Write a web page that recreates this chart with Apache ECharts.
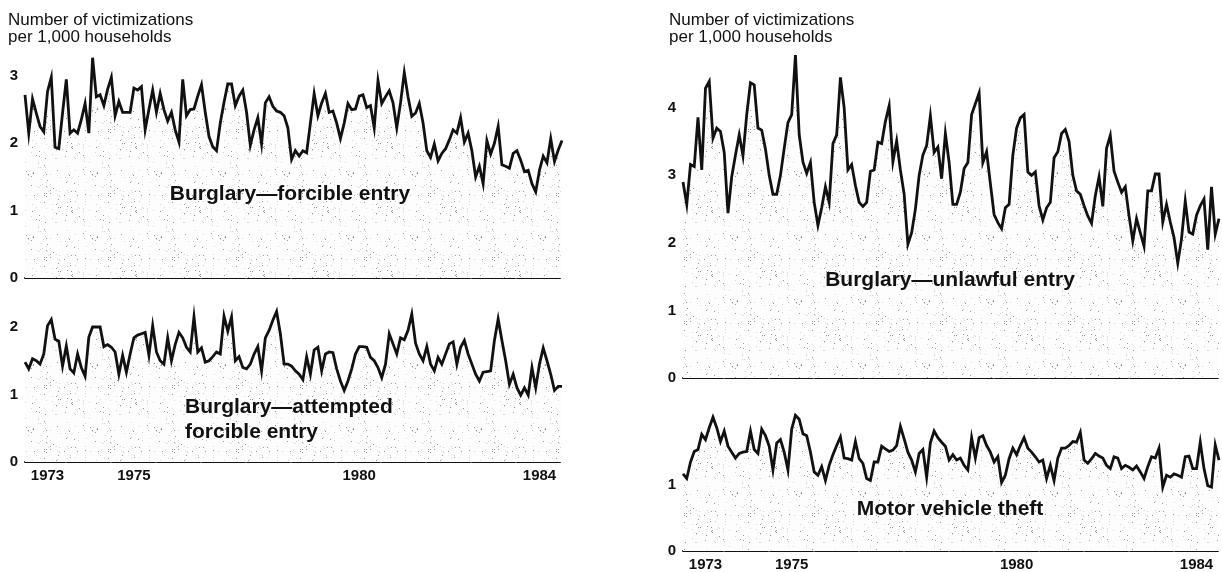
<!DOCTYPE html>
<html>
<head>
<meta charset="utf-8">
<script src="https://cdn.jsdelivr.net/npm/echarts@6/dist/echarts.min.js"></script>
<style>
  html, body { margin: 0; background: #fff; }
  #chart { width: 1222px; height: 572px; }
</style>
</head>
<body>
<div id="chart"></div>
<script>
// monthly categories, Jan 1973 .. Dec 1984
const months = []
for (let y = 1973; y <= 1984; y++) for (let m = 1; m <= 12; m++) months.push(y + '-' + m)

// year tick labels and the month they sit under
const yearTicks = ['1973', '1975', '1980', '1984']
const yearTickIdx = [6, 29, 89, 137]

const forcible = [
  2.72,2.15,2.66,2.45,2.25,2.17,2.77,2.98,1.94,1.92,2.45,2.95,
  2.15,2.2,2.15,2.35,2.59,2.15,3.27,2.69,2.72,2.56,2.8,2.98,
  2.41,2.62,2.46,2.46,2.46,2.82,2.79,2.84,2.2,2.5,2.79,2.46,
  2.74,2.5,2.33,2.46,2.2,2.02,2.95,2.41,2.5,2.51,2.7,2.87,
  2.46,2.1,1.95,1.89,2.3,2.61,2.88,2.88,2.56,2.7,2.79,2.46,
  1.97,2.2,2.38,1.99,2.6,2.69,2.55,2.48,2.46,2.41,2.23,1.76,
  1.89,1.81,1.89,1.86,2.3,2.74,2.41,2.6,2.74,2.46,2.48,2.3,
  2.07,2.3,2.59,2.5,2.51,2.7,2.72,2.53,2.56,2.23,2.93,2.59,
  2.69,2.78,2.6,2.23,2.6,3.05,2.69,2.4,2.45,2.59,2.3,1.89,
  1.79,1.99,1.74,1.85,1.92,2.05,2.2,2.15,2.38,2.02,2.15,1.89,
  1.5,1.66,1.4,2.04,1.84,2.0,2.25,1.68,1.66,1.63,1.85,1.89,
  1.75,1.58,1.6,1.4,1.28,1.6,1.81,1.71,2.07,1.73,1.9,2.04
]

const attempted = [
  1.48,1.38,1.53,1.5,1.45,1.6,2.02,2.11,1.82,1.79,1.42,1.72,
  1.38,1.32,1.6,1.4,1.27,1.85,2.0,2.0,2.0,1.71,1.74,1.7,
  1.63,1.3,1.58,1.33,1.6,1.84,1.88,1.9,1.92,1.58,2.02,1.63,
  1.5,1.45,1.84,1.5,1.74,1.92,1.84,1.7,1.63,2.15,1.63,1.69,
  1.48,1.5,1.56,1.63,1.6,2.16,1.94,2.15,1.5,1.56,1.4,1.38,
  1.45,1.6,1.71,1.35,1.84,1.95,2.1,2.23,1.9,1.45,1.45,1.42,
  1.35,1.3,1.22,1.56,1.3,1.66,1.7,1.35,1.6,1.63,1.62,1.38,
  1.2,1.06,1.2,1.38,1.6,1.71,1.71,1.7,1.55,1.5,1.4,1.25,
  1.45,1.9,1.75,1.6,1.84,1.81,1.95,2.19,1.76,1.6,1.5,1.71,
  1.45,1.35,1.55,1.45,1.6,1.75,1.78,1.45,1.7,1.8,1.6,1.45,
  1.3,1.2,1.33,1.34,1.35,1.8,2.12,1.8,1.5,1.15,1.3,1.1,
  0.99,1.1,0.99,1.4,1.1,1.45,1.69,1.5,1.3,1.06,1.12,1.12
]

const unlawful = [
  2.9,2.57,3.16,3.13,3.86,3.08,4.29,4.39,3.55,3.7,3.65,3.34,
  2.44,2.98,3.3,3.6,3.29,3.9,4.37,4.34,3.7,3.67,3.39,3.0,
  2.72,2.72,3.0,3.4,3.78,3.9,4.78,3.6,3.2,3.03,3.19,2.6,
  2.26,2.52,2.83,2.6,3.47,3.6,4.45,4.0,3.08,3.16,2.85,2.6,
  2.54,2.6,3.06,3.08,3.49,3.47,3.8,4.03,3.2,3.51,3.08,2.72,
  1.98,2.15,2.5,3.0,3.3,3.44,3.88,3.34,3.42,2.95,3.62,3.19,
  2.57,2.57,2.75,3.1,3.19,3.9,4.06,4.22,3.19,3.35,2.88,2.42,
  2.3,2.21,2.52,2.57,3.3,3.7,3.85,3.9,3.05,3.0,3.05,2.55,
  2.34,2.52,2.6,3.26,3.35,3.62,3.68,3.5,3.0,2.77,2.72,2.55,
  2.4,2.29,2.7,2.98,2.54,3.4,3.59,3.06,2.9,2.75,2.83,2.4,
  2.03,2.36,2.15,1.95,2.77,2.77,3.02,3.02,2.31,2.57,2.31,2.08,
  1.7,2.06,2.62,2.16,2.13,2.41,2.55,2.65,1.9,2.83,2.13,2.36
]

const motorVehicle = [
  1.17,1.1,1.35,1.51,1.54,1.77,1.69,1.87,2.03,1.87,1.66,1.82,
  1.59,1.5,1.41,1.48,1.5,1.51,1.82,1.54,1.48,1.85,1.75,1.59,
  1.23,1.64,1.69,1.5,1.23,1.85,2.06,2.0,1.78,1.75,1.5,1.2,
  1.15,1.28,1.07,1.3,1.46,1.6,1.73,1.41,1.4,1.38,1.66,1.4,
  1.33,1.1,1.07,1.35,1.35,1.59,1.55,1.51,1.53,1.6,1.89,1.7,
  1.5,1.38,1.2,1.48,1.54,1.12,1.64,1.82,1.72,1.65,1.59,1.38,
  1.46,1.38,1.41,1.3,1.23,1.72,1.41,1.72,1.75,1.6,1.5,1.35,
  1.43,1.04,1.15,1.4,1.56,1.46,1.6,1.72,1.56,1.5,1.43,1.35,
  1.38,1.1,1.3,1.07,1.41,1.56,1.56,1.6,1.66,1.65,1.8,1.38,
  1.33,1.4,1.48,1.44,1.41,1.3,1.25,1.43,1.41,1.25,1.3,1.27,
  1.23,1.29,1.2,1.1,1.28,1.43,1.41,1.56,0.97,1.15,1.12,1.17,
  1.15,1.12,1.43,1.44,1.25,1.25,1.65,1.25,0.99,0.97,1.61,1.38
]

// value-axis labels shown in each panel
const yLabelsForcible = [0, 1, 2, 3]
const yLabelsAttempted = [0, 1, 2]
const yLabelsUnlawful = [0, 1, 2, 3, 4]
const yLabelsMotor = [0, 1]

// print-style stipple under the lines (fixed seed, purely a texture)
function stipple() {
  const c = document.createElement('canvas')
  c.width = c.height = 64
  const g = c.getContext('2d')
  g.fillStyle = '#fdfdfd'
  g.fillRect(0, 0, 64, 64)
  let s = 12345
  const next = () => (s = (s * 16807) % 2147483647) / 2147483647
  for (let k = 0; k < 130; k++) {
    g.fillStyle = next() < 0.4 ? 'rgba(0,0,0,0.4)' : 'rgba(0,0,0,0.16)'
    g.fillRect(Math.floor(next() * 64), Math.floor(next() * 64), 1, 1)
  }
  return c
}
const tex = stipple()

const ink = '#111'
const font = 'Liberation Sans, Arial, sans-serif'
const panels = [
  { data: forcible,     labels: yLabelsForcible,  left: 25,  width: 537, top: 49,  height: 229, max: 3.4, years: false },
  { data: attempted,    labels: yLabelsAttempted, left: 25,  width: 537, top: 300, height: 162, max: 2.4, years: true },
  { data: unlawful,     labels: yLabelsUnlawful,  left: 683, width: 536, top: 47,  height: 331, max: 4.9, years: false },
  { data: motorVehicle, labels: yLabelsMotor,     left: 683, width: 536, top: 406, height: 147, max: 2.2, years: true },
]

const chart = echarts.init(document.getElementById('chart'))
chart.setOption({
  animation: false,
  backgroundColor: '#fff',
  grid: panels.map(p => ({ left: p.left, top: p.top, width: p.width, height: p.height })),
  xAxis: panels.map((p, i) => ({
    type: 'category', gridIndex: i, data: months, boundaryGap: false,
    axisTick: { show: false },
    axisLine: { lineStyle: { color: ink, width: 2, type: [43, 2], dashOffset: 3 } },
    splitLine: { show: false },
    axisLabel: {
      show: p.years,
      interval: idx => yearTickIdx.includes(idx),
      formatter: (v, idx) => { const k = yearTickIdx.indexOf(idx); return k < 0 ? '' : yearTicks[k] },
      color: ink, fontSize: 15, fontWeight: 'bold', margin: 6, fontFamily: font,
    },
  })),
  yAxis: panels.map((p, i) => ({
    type: 'value', gridIndex: i, min: 0, max: p.max, interval: 1,
    axisTick: { show: false },
    splitLine: { show: false },
    axisLine: { show: false },
    axisLabel: {
      formatter: v => p.labels.includes(v) ? String(v) : '',
      color: ink, fontSize: 15, fontWeight: 'bold', margin: 7, fontFamily: font,
    },
  })),
  series: panels.map((p, i) => ({
    type: 'line', xAxisIndex: i, yAxisIndex: i, data: p.data,
    symbol: 'none',
    lineStyle: { color: ink, width: 2.8, join: 'miter' },
    areaStyle: { color: { image: tex, repeat: 'repeat' }, opacity: 1 },
  })),
  graphic: [
    { type: 'text', z: 100, left: 8, top: 12, style: { text: 'Number of victimizations\nper 1,000 households', fill: ink, font: '17px ' + font, lineHeight: 17 } },
    { type: 'text', z: 100, left: 669, top: 12, style: { text: 'Number of victimizations\nper 1,000 households', fill: ink, font: '17px ' + font, lineHeight: 17 } },
    { type: 'text', z: 100, x: 290, y: 194, style: { text: 'Burglary—forcible entry', fill: ink, font: 'bold 21px ' + font, align: 'center', verticalAlign: 'middle' } },
    { type: 'text', z: 100, x: 185, y: 420, style: { text: 'Burglary—attempted\nforcible entry', fill: ink, font: 'bold 21px ' + font, align: 'left', verticalAlign: 'middle', lineHeight: 25 } },
    { type: 'text', z: 100, x: 950, y: 280, style: { text: 'Burglary—unlawful entry', fill: ink, font: 'bold 21px ' + font, align: 'center', verticalAlign: 'middle' } },
    { type: 'text', z: 100, x: 950, y: 509, style: { text: 'Motor vehicle theft', fill: ink, font: 'bold 21px ' + font, align: 'center', verticalAlign: 'middle' } },
  ],
})
</script>
</body>
</html>
